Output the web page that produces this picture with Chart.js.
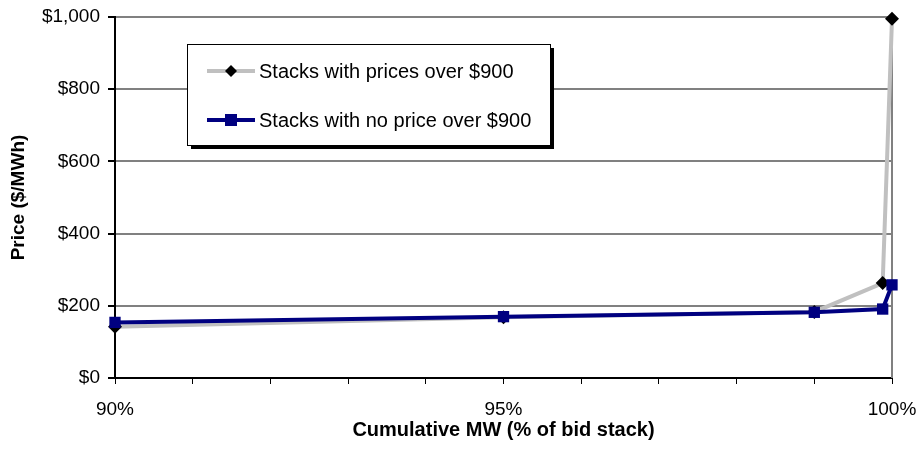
<!DOCTYPE html>
<html lang="en">
<head>
    <meta charset="UTF-8">
    <title>Price vs cumulative MW</title>
    <script src="https://cdn.jsdelivr.net/npm/chart.js"></script>
    <style>
        body {
            margin: 0;
            padding: 0;
            background: #ffffff;
        }

        #wrap {
            position: relative;
            width: 918px;
            height: 454px;
        }
    </style>
</head>
<body>
    <div id="wrap">
        <canvas id="priceChart"></canvas>
    </div>

    <script>
        // Cumulative MW (% of bid stack)
        const cumulativeMW = [90, 95, 99, 99.88, 100];
        // Price ($/MWh)
        const stacksOver900 = [142, 168, 183, 263, 995];
        const stacksNoOver900 = [154, 170, 182, 191, 258];

        const seriesNames = ['Stacks with prices over $900', 'Stacks with no price over $900'];
        const xTickLabels = [90, 95, 100];
        const yTickStep = 200;

        const FONT = '"Liberation Sans", Arial, sans-serif';

        function toPoints(values) {
            return cumulativeMW.map((x, i) => ({ x: x, y: values[i] }));
        }

        function formatDollar(v) {
            return '$' + v.toLocaleString('en-US');
        }

        // Legend box drawn inside the plot area, with a drop shadow
        const boxLegend = {
            id: 'boxLegend',
            afterDraw(chart) {
                const c = chart.ctx;
                const x = 187, y = 44, w = 363, h = 101;
                c.save();
                c.fillStyle = '#000000';
                c.fillRect(x + 4, y + 4, w, h);
                c.fillStyle = '#ffffff';
                c.fillRect(x, y, w, h);
                c.strokeStyle = '#000000';
                c.lineWidth = 1;
                c.strokeRect(x + 0.5, y + 0.5, w, h);

                const rows = [71, 120];
                chart.data.datasets.forEach((ds, i) => {
                    const ry = rows[i];
                    c.strokeStyle = ds.borderColor;
                    c.lineWidth = 4;
                    c.beginPath();
                    c.moveTo(207, ry);
                    c.lineTo(255, ry);
                    c.stroke();

                    c.fillStyle = ds.pointBackgroundColor;
                    if (ds.pointStyle === 'rectRot') {
                        c.beginPath();
                        c.moveTo(231, ry - 6);
                        c.lineTo(237, ry);
                        c.lineTo(231, ry + 6);
                        c.lineTo(225, ry);
                        c.closePath();
                        c.fill();
                    } else {
                        c.fillRect(225, ry - 6, 12, 12);
                    }

                    c.fillStyle = '#000000';
                    c.font = '20px ' + FONT;
                    c.textBaseline = 'middle';
                    c.textAlign = 'left';
                    c.fillText(ds.label, 259, ry + 1);
                });
                c.restore();
            }
        };

        // Grey border on the right side of the plot area
        const plotBorder = {
            id: 'plotBorder',
            beforeDatasetsDraw(chart) {
                const a = chart.chartArea;
                const c = chart.ctx;
                c.save();
                c.strokeStyle = '#808080';
                c.lineWidth = 2;
                c.beginPath();
                c.moveTo(a.right, a.top);
                c.lineTo(a.right, a.bottom);
                c.stroke();
                c.restore();
            }
        };

        const ctx = document.getElementById('priceChart').getContext('2d');

        new Chart(ctx, {
            type: 'line',
            data: {
                datasets: [
                    {
                        label: seriesNames[0],
                        data: toPoints(stacksOver900),
                        borderColor: '#c0c0c0',
                        borderWidth: 4,
                        pointStyle: 'rectRot',
                        pointRadius: 7,
                        pointBackgroundColor: '#000000',
                        pointBorderColor: '#000000',
                        pointBorderWidth: 0,
                        tension: 0,
                        clip: false,
                        order: 1
                    },
                    {
                        label: seriesNames[1],
                        data: toPoints(stacksNoOver900),
                        borderColor: '#000080',
                        borderWidth: 4,
                        pointStyle: 'rect',
                        pointRadius: 8,
                        pointBackgroundColor: '#000080',
                        pointBorderColor: '#000080',
                        pointBorderWidth: 0,
                        tension: 0,
                        clip: false,
                        order: 0
                    }
                ]
            },
            options: {
                responsive: true,
                maintainAspectRatio: false,
                animation: false,
                layout: {
                    padding: { top: 17, right: 26, left: 0, bottom: 0 }
                },
                plugins: {
                    legend: { display: false },
                    tooltip: { enabled: false }
                },
                scales: {
                    x: {
                        type: 'linear',
                        min: 90,
                        max: 100,
                        afterFit(scale) {
                            scale.height = 76;
                            scale.paddingLeft = 0;
                            scale.paddingRight = 0;
                        },
                        afterBuildTicks(scale) {
                            scale.ticks = [];
                            for (let v = 90; v <= 100; v++) scale.ticks.push({ value: v });
                        },
                        ticks: {
                            autoSkip: false,
                            maxRotation: 0,
                            padding: 14,
                            color: '#000000',
                            font: { family: FONT, size: 19 },
                            callback(v) {
                                return xTickLabels.includes(v) ? v + '%' : '';
                            }
                        },
                        grid: {
                            drawOnChartArea: false,
                            drawTicks: true,
                            tickLength: 6,
                            tickColor: '#000000'
                        },
                        border: { color: '#000000', width: 2 },
                        title: {
                            display: true,
                            text: 'Cumulative MW (% of bid stack)',
                            color: '#000000',
                            font: { family: FONT, size: 20, weight: 'bold' },
                            padding: { top: 6, bottom: 12 }
                        }
                    },
                    y: {
                        min: 0,
                        max: 1000,
                        afterFit(scale) {
                            scale.width = 115;
                            scale.paddingTop = 0;
                            scale.paddingBottom = 0;
                        },
                        ticks: {
                            stepSize: yTickStep,
                            padding: 8,
                            color: '#000000',
                            font: { family: FONT, size: 19 },
                            callback(v) { return formatDollar(v); }
                        },
                        grid: {
                            color(c) { return c.tick.value === 0 ? 'rgba(0,0,0,0)' : '#808080'; },
                            lineWidth: 2,
                            drawTicks: true,
                            tickLength: 7,
                            tickColor: '#000000'
                        },
                        border: { color: '#000000', width: 2 },
                        title: {
                            display: true,
                            text: 'Price ($/MWh)',
                            color: '#000000',
                            font: { family: FONT, size: 19, weight: 'bold' },
                            padding: { top: 7, bottom: 4 }
                        }
                    }
                }
            },
            plugins: [plotBorder, boxLegend]
        });
    </script>
</body>
</html>
